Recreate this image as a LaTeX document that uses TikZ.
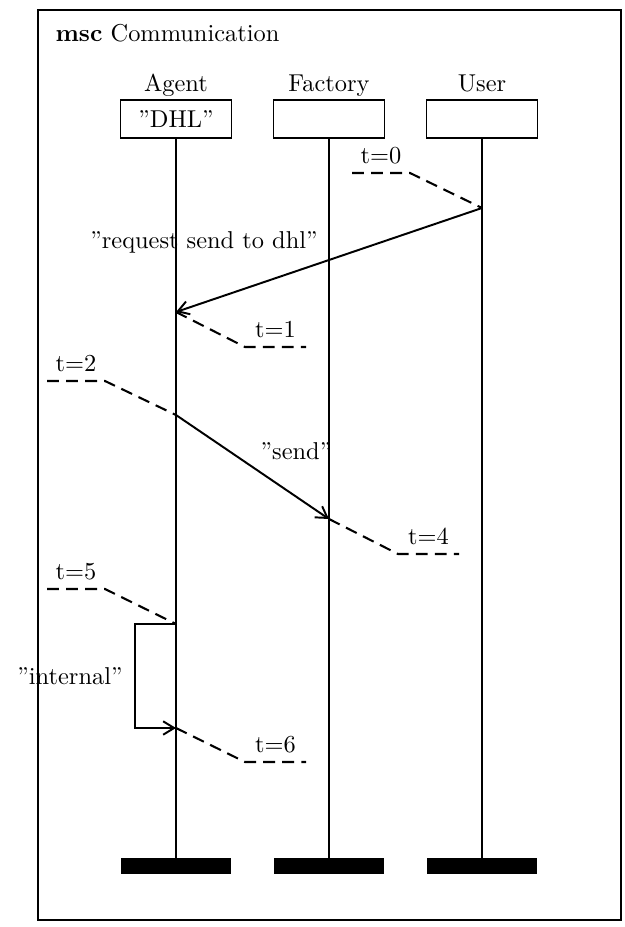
\documentclass[tikz,border=0pt]{standalone}
\usepackage{tikz}
\usetikzlibrary{arrows.meta, positioning}

\begin{document}
\begin{tikzpicture}[
    x = 0.41pt, y = -0.41pt,
    inst/.style     = {draw, line width=0.8pt, minimum width=45.5pt,
                       minimum height=15.6pt, inner sep=0pt},
    endbar/.style   = {fill=black, minimum width=45.5pt,
                       minimum height=6.2pt, inner sep=0pt},
    lifeline/.style = {line width=0.8pt},
    msg/.style      = {-{Straight Barb[length=4.5pt, width=5.5pt]},
                       line width=0.8pt},
    timer/.style    = {line width=0.85pt, dash pattern=on 4.9pt off 2.9pt},
    iname/.style    = {anchor=base}
  ]
  \useasboundingbox (0,0) rectangle (625,927);
  \draw[line width=0.8pt] (38,10) rectangle (621,920);
  \node[anchor=west] (title) at (47,33) {\textbf{msc} Communication};

  \node[inst] (agent)   at (176,119) {''DHL''};
  \node[inst] (factory) at (329,119) {};
  \node[inst] (user)    at (482,119) {};
  \node[iname] (agentname)   at (176,92) {Agent};
  \node[iname] (factoryname) at (329,92) {Factory};
  \node[iname] (username)    at (482,92) {User};

  \node[endbar] (agentend)   at (176,866) {};
  \node[endbar] (factoryend) at (329,866) {};
  \node[endbar] (userend)    at (482,866) {};

  \draw[lifeline] (agent)   -- (agentend);
  \draw[lifeline] (factory) -- (factoryend);
  \draw[lifeline] (user)    -- (userend);

  \coordinate (u1) at (482,208);
  \coordinate (a1) at (176,312);
  \coordinate (a2) at (176,415);
  \coordinate (f2) at (329,519);
  \coordinate (a5) at (176,624);
  \coordinate (s5) at (135,624);
  \coordinate (s6) at (135,728);
  \coordinate (a6) at (176,728);

  \draw[msg] (u1) -- (a1);
  \node (req) at (204,242) {''request send to dhl''};
  \draw[msg] (a2) -- (f2);
  \node (send) at (296,451) {''send''};
  \draw[msg] (a5) -- (s5) -- (s6) -- (a6);
  \node (internal) at (70,676) {''internal''};

  \coordinate (t0a) at (352,173);
  \coordinate (t0b) at (410,173);
  \draw[timer] (t0a) -- node[above] (t0) {t=0} (t0b) -- (u1);
  \coordinate (t1a) at (245,347);
  \coordinate (t1b) at (306,347);
  \draw[timer] (a1) -- (t1a) -- node[above] (t1) {t=1} (t1b);
  \coordinate (t2a) at (47,381);
  \coordinate (t2b) at (105,381);
  \draw[timer] (t2a) -- node[above] (t2) {t=2} (t2b) -- (a2);
  \coordinate (t4a) at (398,554);
  \coordinate (t4b) at (459,554);
  \draw[timer] (f2) -- (t4a) -- node[above] (t4) {t=4} (t4b);
  \coordinate (t5a) at (47,589);
  \coordinate (t5b) at (105,589);
  \draw[timer] (t5a) -- node[above] (t5) {t=5} (t5b) -- (a5);
  \coordinate (t6a) at (245,762);
  \coordinate (t6b) at (306,762);
  \draw[timer] (a6) -- (t6a) -- node[above] (t6) {t=6} (t6b);
\end{tikzpicture}
\end{document}
